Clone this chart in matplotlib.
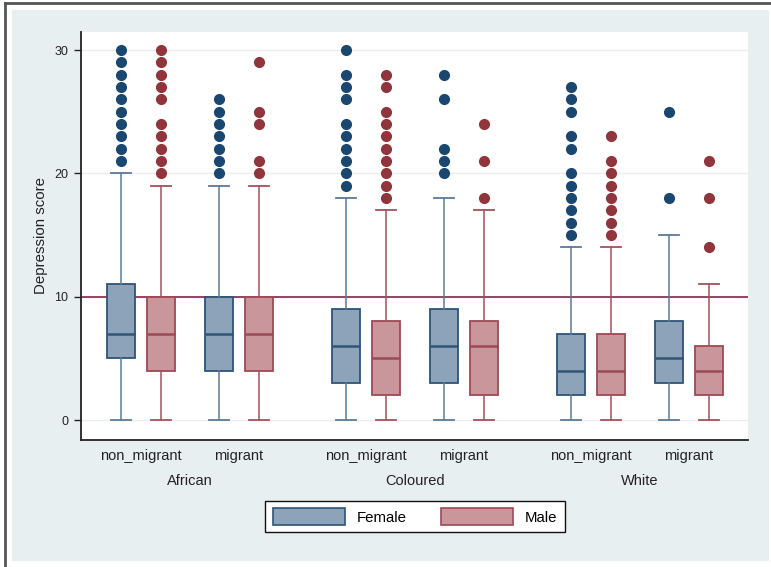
import matplotlib
matplotlib.use('Agg')
import matplotlib.pyplot as plt
import matplotlib.transforms as mtransforms
from matplotlib.patches import Patch, Rectangle
from matplotlib.lines import Line2D

plt.rcParams['font.family'] = ['Liberation Sans', 'DejaVu Sans']

ethnic = ['African', 'Coloured', 'White']
migration = ['non_migrant', 'migrant']
sexes = ['Female', 'Male']

# order: African nm, African m, Coloured nm, Coloured m, White nm, White m
female_q1 = [5, 4, 3, 3, 2, 3]
female_med = [7, 7, 6, 6, 4, 5]
female_q3 = [11, 10, 9, 9, 7, 8]
female_lo = [0, 0, 0, 0, 0, 0]
female_hi = [20, 19, 18, 18, 14, 15]
female_out = [
    [21, 22, 23, 24, 25, 26, 27, 28, 29, 30],
    [20, 21, 22, 23, 24, 25, 26],
    [19, 20, 21, 22, 23, 24, 26, 27, 28, 30],
    [20, 21, 22, 26, 28],
    [15, 16, 17, 18, 19, 20, 22, 23, 25, 26, 27],
    [18, 25],
]

male_q1 = [4, 4, 2, 2, 2, 2]
male_med = [7, 7, 5, 6, 4, 4]
male_q3 = [10, 10, 8, 8, 7, 6]
male_lo = [0, 0, 0, 0, 0, 0]
male_hi = [19, 19, 17, 17, 14, 11]
male_out = [
    [20, 21, 22, 23, 24, 26, 27, 28, 29, 30],
    [20, 21, 24, 25, 29],
    [18, 19, 20, 21, 22, 23, 24, 25, 27, 28],
    [18, 21, 24],
    [15, 16, 17, 18, 19, 20, 21, 23],
    [14, 18, 21],
]

cutoff = 10

navy = '#1a476f'
maroon = '#90353b'

W, H = 771, 567
fig = plt.figure(figsize=(W / 100, H / 100), dpi=100)
fig.patch.set_facecolor('white')

# stata-like outer background and frame
fig.patches.append(Rectangle((12 / W, 1 - 561 / H), (769 - 12) / W, (561 - 10) / H,
                             transform=fig.transFigure, facecolor='#e8eff1',
                             edgecolor='none', zorder=-5))
fig.lines.append(Line2D([5 / W, 5 / W], [0, 1 - 3 / H], transform=fig.transFigure,
                        color='#555555', lw=2, zorder=-4))
fig.lines.append(Line2D([5 / W, 1], [1 - 3 / H, 1 - 3 / H], transform=fig.transFigure,
                        color='#555555', lw=2, zorder=-4))

ax = fig.add_axes([81 / W, 1 - 440 / H, (748 - 81) / W, (440 - 32) / H])
ax.set_facecolor('white')

# box layout
pair_centers = []
for c in range(len(ethnic)):
    for g in range(len(migration)):
        pair_centers.append(141 + 225 * c + 97.5 * g)
pos_f = [p - 20 for p in pair_centers]
pos_m = [p + 20 for p in pair_centers]


def make_stats(q1, med, q3, lo, hi, out):
    return [dict(q1=a, med=b, q3=c, whislo=d, whishi=e, fliers=f)
            for a, b, c, d, e, f in zip(q1, med, q3, lo, hi, out)]


def draw(stats, pos, fill, edge, whisk, mcol):
    ax.bxp(stats, positions=pos, widths=28, capwidths=20, patch_artist=True,
           showfliers=True, manage_ticks=False, zorder=3,
           boxprops=dict(facecolor=fill, edgecolor=edge, linewidth=1.3),
           medianprops=dict(color=edge, linewidth=1.8),
           whiskerprops=dict(color=whisk, linewidth=1.1),
           capprops=dict(color=whisk, linewidth=1.3),
           flierprops=dict(marker='o', markerfacecolor=mcol, markeredgecolor=mcol,
                           markersize=7, linestyle='none'))


ax.axhline(cutoff, color='#8c3658', lw=1.3, zorder=2)

draw(make_stats(female_q1, female_med, female_q3, female_lo, female_hi, female_out),
     pos_f, '#8ca3ba', '#2e5478', '#5e7a94', navy)
draw(make_stats(male_q1, male_med, male_q3, male_lo, male_hi, male_out),
     pos_m, '#c9969b', '#9c4a54', '#a3525d', maroon)

ax.set_xlim(81, 748)
ax.set_ylim(-1.62, 31.46)
ax.set_yticks([0, 10, 20, 30])
ax.yaxis.grid(True, color='#ececec', lw=1, zorder=0)
ax.set_axisbelow(True)
ax.tick_params(axis='y', length=5, width=1, color='#222222', labelsize=9, pad=4,
               labelcolor='#222222')
ax.set_xticks([])
for s in ['top', 'right']:
    ax.spines[s].set_visible(False)
for s in ['left', 'bottom']:
    ax.spines[s].set_color('#222222')
    ax.spines[s].set_linewidth(1.3)

ax.set_ylabel('Depression score', fontsize=10.8, color='#222222', labelpad=5)

trans = mtransforms.blended_transform_factory(ax.transData, ax.transAxes)
for i, p in enumerate(pair_centers):
    ax.text(p, -16 / 408, migration[i % 2], transform=trans, ha='center', va='center',
            fontsize=10.5, color='#222222')
for c in range(len(ethnic)):
    mid = (pair_centers[2 * c] + pair_centers[2 * c + 1]) / 2
    ax.text(mid, -41 / 408, ethnic[c], transform=trans, ha='center', va='center',
            fontsize=10.5, color='#222222')

handles = [Patch(facecolor='#8ca3ba', edgecolor='#2e5478', lw=1.2),
           Patch(facecolor='#c9969b', edgecolor='#9c4a54', lw=1.2)]
leg = fig.legend(handles, sexes, loc='center', bbox_to_anchor=(415 / W, 1 - 516.5 / H),
                 ncol=2, frameon=True, fancybox=False, fontsize=10.8,
                 handlelength=4.8, handleheight=1.3, handletextpad=0.8,
                 columnspacing=2.3, borderpad=0.5, framealpha=1)
leg.get_frame().set_edgecolor('#111111')
leg.get_frame().set_facecolor('white')
leg.get_frame().set_linewidth(1.0)

fig.savefig('out.png', dpi=100)
